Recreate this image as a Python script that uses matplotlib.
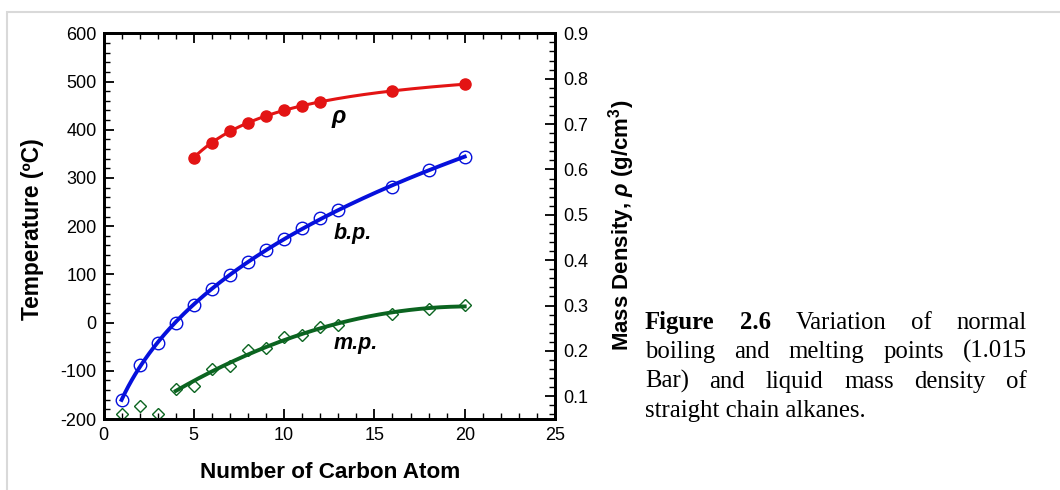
import numpy as np
import matplotlib
matplotlib.use("Agg")
import matplotlib.pyplot as plt
from matplotlib.patches import Rectangle
from matplotlib.ticker import MultipleLocator

plt.rcParams['font.family'] = ['Liberation Sans', 'DejaVu Sans']
plt.rcParams['axes.unicode_minus'] = False
plt.rcParams['mathtext.fontset'] = 'custom'
plt.rcParams['mathtext.rm'] = 'Liberation Sans:bold'
plt.rcParams['mathtext.it'] = 'Liberation Sans:bold:italic'
plt.rcParams['mathtext.bf'] = 'Liberation Sans:bold'

# ---- data ----
n_bp = [1, 2, 3, 4, 5, 6, 7, 8, 9, 10, 11, 12, 13, 16, 18, 20]
bp = [-161.5, -88.6, -42.1, -0.5, 36.1, 68.7, 98.4, 125.7, 150.8, 174.1,
      195.9, 216.3, 234.0, 282.0, 317.0, 343.0]
n_mp = [1, 2, 3, 4, 5, 6, 7, 8, 9, 10, 11, 12, 13, 16, 18, 20]
mp = [-189.0, -172.0, -189.0, -138.3, -131.0, -95.3, -90.6, -56.8, -53.5,
      -29.7, -25.6, -10.0, -5.5, 18.5, 28.2, 36.6]
n_rho = [5, 6, 7, 8, 9, 10, 11, 12, 16, 20]
rho = [0.626, 0.659, 0.684, 0.703, 0.718, 0.730, 0.740, 0.749, 0.773, 0.788]

RED = '#e31414'
BLUE = '#0610dc'
GREEN = '#0b6420'

W, H = 1060, 490
fig = plt.figure(figsize=(W / 100, H / 100), dpi=100)
ax = fig.add_axes([103.5 / W, 1 - 419 / H, (555 - 103.5) / W, (419 - 33.3) / H])
ax2 = ax.twinx()

# trend curves, fitted to the points
nb = np.array(n_bp, float)
cb = np.polyfit(np.log(nb), bp, 3)
xb = np.linspace(1, 20, 200)
ax.plot(xb, np.polyval(cb, np.log(xb)), color=BLUE, lw=2.8, zorder=3)
ax.plot(n_bp, bp, 'o', ms=9, mfc='none', mec=BLUE, mew=1.0, zorder=4)

nm = np.array(n_mp, float)
mm = np.array(mp)
sel = nm >= 4
cm = np.polyfit(nm[sel], mm[sel], 2)
xm = np.linspace(4, 20, 200)
ax.plot(xm, np.polyval(cm, xm), color=GREEN, lw=2.8, zorder=3)
ax.plot(n_mp, mp, 'D', ms=6.5, mfc='none', mec=GREEN, mew=1.0, zorder=4)

nr = np.array(n_rho, float)
cr = np.polyfit(1 / nr, rho, 2)
xr = np.linspace(5, 20, 200)
ax2.plot(xr, np.polyval(cr, 1 / xr), color=RED, lw=2.2, zorder=3)
ax2.plot(n_rho, rho, 'o', ms=8, color=RED, zorder=4)

ax.set_xlim(0, 25)
ax.set_ylim(-200, 600)
ax2.set_ylim(0.05, 0.9)

ax.xaxis.set_major_locator(MultipleLocator(5))
ax.xaxis.set_minor_locator(MultipleLocator(1))
ax.yaxis.set_major_locator(MultipleLocator(100))
ax.yaxis.set_minor_locator(MultipleLocator(20))
ax2.set_yticks(np.arange(0.1, 0.91, 0.1))
ax2.yaxis.set_minor_locator(MultipleLocator(0.02))
ax2.set_yticklabels(['%.1f' % v for v in np.arange(0.1, 0.91, 0.1)])

ax.tick_params(axis='x', which='both', direction='in', top=True, bottom=True,
               labelsize=13, pad=6)
ax.tick_params(axis='y', which='both', direction='in', left=True, right=False,
               labelsize=13, pad=5)
ax2.tick_params(axis='y', which='both', direction='in', labelsize=13, pad=6)
for a in (ax, ax2):
    a.tick_params(which='major', length=7, width=1.3)
    a.tick_params(which='minor', length=4, width=1.0)
    for s in a.spines.values():
        s.set_linewidth(2)

ax.text(13.05, 422, r'$\rho$', fontsize=17, ha='center', va='center')
ax.text(13.8, 185, 'b.p.', fontsize=15.5, weight='bold', style='italic',
        ha='center', va='center')
ax.text(13.95, -43, 'm.p.', fontsize=15.5, weight='bold', style='italic',
        ha='center', va='center')

fig.text(33 / W, 1 - 229 / H, 'Temperature (ºC)', rotation=90, fontsize=16.4,
         weight='bold', ha='center', va='center')
fig.text(622 / W, 1 - 225 / H, r'Mass Density, $\rho$ (g/cm$^3$)', rotation=90,
         fontsize=16, weight='bold', ha='center', va='center')
fig.text(330 / W, 1 - 472 / H, 'Number of Carbon Atom', fontsize=16.2,
         weight='bold', ha='center', va='center')

# caption, justified by hand
cap_font = dict(family=['Liberation Serif', 'DejaVu Serif'], fontsize=17.8,
                va='baseline', ha='left')
cap_lines = [
    [('Figure', True), ('2.6', True), ('Variation', False), ('of', False), ('normal', False)],
    [('boiling', False), ('and', False), ('melting', False), ('points', False), ('(1.015', False)],
    [('Bar)', False), ('and', False), ('liquid', False), ('mass', False), ('density', False), ('of', False)],
]
cap_base = [328.5, 358, 387.5, 417]
left_px, right_px = 645, 1027
renderer = fig.canvas.get_renderer()
for words, yb in zip(cap_lines, cap_base):
    txts = [fig.text(0, 1 - yb / H, w, weight='bold' if b else 'normal', **cap_font)
            for w, b in words]
    widths = [t.get_window_extent(renderer).width for t in txts]
    gap = (right_px - left_px - sum(widths)) / (len(txts) - 1)
    x = left_px
    for t, w in zip(txts, widths):
        t.set_x(x / W)
        x += w + gap
fig.text(left_px / W, 1 - cap_base[3] / H, 'straight chain alkanes.', **cap_font)

fig.add_artist(Rectangle((7 / W, -0.1), 1.2, 1 - 11.7 / H + 0.1,
                         transform=fig.transFigure, fill=False,
                         ec='#d9d9d9', lw=1.5))

fig.savefig('out.png', dpi=100)
